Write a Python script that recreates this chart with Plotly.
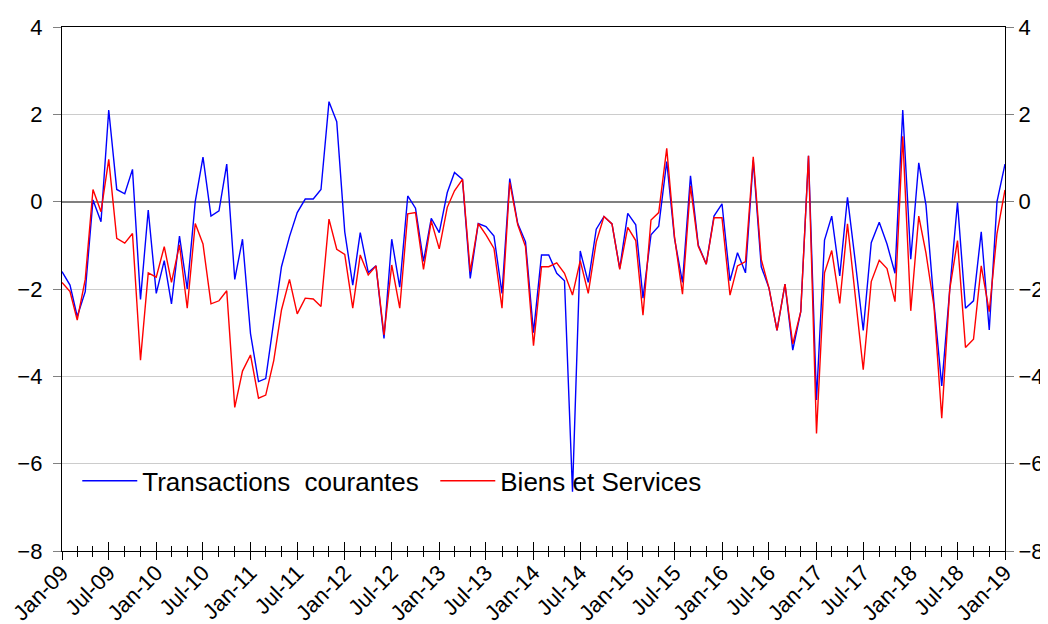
import pandas as pd
import plotly.graph_objects as go

dates = pd.date_range("2009-01-01", "2019-01-01", freq="MS")

transactions_courantes = [
    -1.60, -1.91, -2.63, -2.06, 0.04, -0.46, 2.10, 0.28, 0.18, 0.74,
    -2.24, -0.19, -2.10, -1.35, -2.34, -0.79, -2.00, 0.00, 1.02, -0.33,
    -0.21, 0.86, -1.78, -0.86, -3.02, -4.12, -4.05, -2.79, -1.49, -0.80,
    -0.25, 0.06, 0.06, 0.28, 2.29, 1.83, -0.69, -1.91, -0.71, -1.62,
    -1.47, -3.13, -0.86, -1.96, 0.13, -0.15, -1.37, -0.38, -0.71, 0.21,
    0.67, 0.51, -1.76, -0.50, -0.57, -0.79, -2.10, 0.53, -0.50, -0.92,
    -3.00, -1.22, -1.22, -1.64, -1.81, -6.64, -1.13, -1.85, -0.63, -0.34,
    -0.51, -1.53, -0.27, -0.53, -2.21, -0.76, -0.56, 0.92, -0.84, -1.85,
    0.59, -0.99, -1.43, -0.33, -0.05, -1.81, -1.17, -1.63, 0.95, -1.49,
    -1.98, -2.95, -1.89, -3.40, -2.52, 1.05, -4.54, -0.88, -0.33, -1.70,
    0.10, -1.41, -2.95, -0.94, -0.47, -0.97, -1.64, 2.10, -1.32, 0.89,
    -0.08, -2.33, -4.22, -2.01, -0.02, -2.44, -2.27, -0.69, -2.94, 0.00,
    0.86,
]

biens_et_services = [
    -1.85, -2.06, -2.71, -1.78, 0.28, -0.23, 0.97, -0.84, -0.95, -0.73,
    -3.63, -1.63, -1.73, -1.03, -1.85, -0.99, -2.44, -0.50, -0.97, -2.34,
    -2.27, -2.04, -4.71, -3.88, -3.51, -4.50, -4.43, -3.64, -2.48, -1.78,
    -2.57, -2.21, -2.23, -2.40, -0.40, -1.09, -1.21, -2.44, -1.22, -1.68,
    -1.47, -3.05, -1.45, -2.44, -0.28, -0.25, -1.55, -0.44, -1.08, -0.13,
    0.25, 0.51, -1.60, -0.50, -0.76, -1.07, -2.44, 0.44, -0.53, -1.03,
    -3.30, -1.49, -1.49, -1.40, -1.64, -2.14, -1.35, -2.10, -0.92, -0.34,
    -0.51, -1.55, -0.59, -0.89, -2.60, -0.42, -0.25, 1.22, -0.80, -2.12,
    0.36, -1.02, -1.43, -0.37, -0.37, -2.14, -1.47, -1.37, 1.03, -1.32,
    -1.98, -2.95, -1.89, -3.26, -2.52, 1.05, -5.31, -1.63, -1.12, -2.33,
    -0.51, -2.18, -3.85, -1.83, -1.34, -1.53, -2.29, 1.50, -2.50, -0.33,
    -1.18, -2.40, -4.96, -2.01, -0.89, -3.34, -3.15, -1.47, -2.52, -0.73,
    0.27,
]

y_range = [-8, 4]
x_range = ["2009-01-01", "2019-01-01"]

FONT = "Arial, Liberation Sans, sans-serif"

fig = go.Figure()
fig.add_trace(go.Scatter(
    x=dates, y=transactions_courantes, mode="lines",
    name="Transactions\u00a0 courantes",
    line=dict(color="#0000ff", width=1.4),
))
fig.add_trace(go.Scatter(
    x=dates, y=biens_et_services, mode="lines",
    name="Biens et Services",
    line=dict(color="#ff0000", width=1.4),
))
# helper traces so the right axis and the inner tick axis get drawn
fig.add_trace(go.Scatter(x=[dates[0]], y=[None], yaxis="y2", showlegend=False,
                         hoverinfo="skip", mode="lines"))
fig.add_trace(go.Scatter(x=[dates[0]], y=[None], xaxis="x2", showlegend=False,
                         hoverinfo="skip", mode="lines"))

fig.update_layout(
    width=1040, height=616,
    margin=dict(l=54, r=43, t=19, b=73),
    paper_bgcolor="white", plot_bgcolor="white",
    font=dict(family=FONT, size=22, color="black"),
    showlegend=True,
    legend=dict(
        orientation="h", x=0.0162, y=0.134, xanchor="left", yanchor="middle",
        bgcolor="rgba(0,0,0,0)", font=dict(size=26, family=FONT),
        entrywidth=288, tracegroupgap=0, itemwidth=55,
    ),
    xaxis=dict(
        type="date", range=x_range, automargin=False,
        showline=True, linecolor="black", linewidth=1.4, mirror=True,
        showgrid=False, zeroline=False,
        tick0="2009-01-01", dtick="M6", tickformat="%b-%y",
        ticks="outside", ticklen=8, tickwidth=1.2, tickcolor="black",
        tickangle=-45, ticklabelstandoff=-9,
        minor=dict(tick0="2009-01-01", dtick="M2", ticks="outside",
                   ticklen=5, tickwidth=1, tickcolor="black", showgrid=False),
        tickfont=dict(size=22),
    ),
    xaxis2=dict(
        type="date", range=x_range, overlaying="x", side="bottom",
        anchor="y", automargin=False,
        showline=False, showgrid=False, zeroline=False, showticklabels=False,
        tick0="2009-01-01", dtick="M6",
        ticks="inside", ticklen=9, tickwidth=1.2, tickcolor="black",
        minor=dict(tick0="2009-01-01", dtick="M2", ticks="inside",
                   ticklen=5, tickwidth=1, tickcolor="black", showgrid=False),
    ),
    yaxis=dict(
        range=y_range, dtick=2, tick0=0, automargin=False,
        showline=True, linecolor="black", linewidth=1.4, mirror=True,
        showgrid=True, gridcolor="#cccccc", gridwidth=1,
        zeroline=True, zerolinecolor="#808080", zerolinewidth=1.6,
        ticks="outside", ticklen=8, tickcolor="#808080", tickwidth=1,
        ticklabelstandoff=6,
        tickfont=dict(size=22),
    ),
    yaxis2=dict(
        range=y_range, dtick=2, tick0=0, overlaying="y", side="right",
        anchor="x", automargin=False,
        showline=False, showgrid=False, zeroline=False,
        ticks="outside", ticklen=8, tickcolor="#808080", tickwidth=1,
        ticklabelstandoff=0,
        tickfont=dict(size=22),
    ),
)

fig.write_html("out.html")
